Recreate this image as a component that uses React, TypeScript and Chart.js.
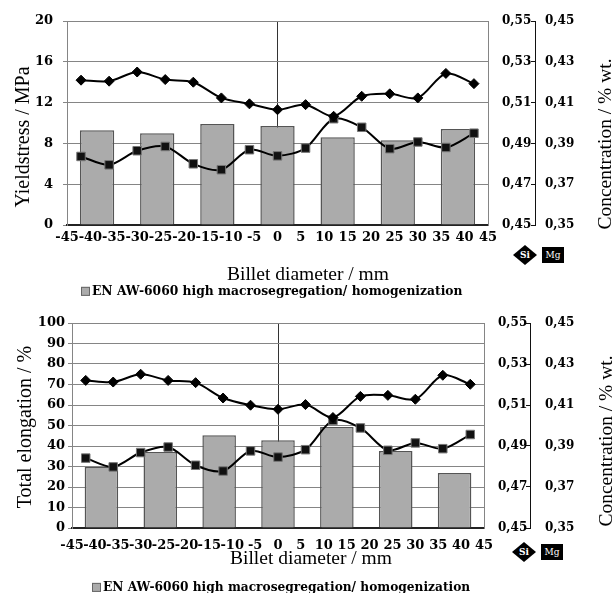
import React, { useEffect, useRef } from "react";
import { Chart, registerables } from "chart.js";

Chart.register(...registerables);

// ---- data ----
const barPositions = ["-38.6", "-25.7", "-12.9", "0", "12.9", "25.7", "38.6"];
const pointPositions = ["-42", "-36", "-30", "-24", "-18", "-12", "-6", "0", "6", "12", "18", "24", "30", "36", "42"];

const yieldBars = [9.3, 9.0, 9.9, 9.7, 8.6, 8.3, 9.4];
const yieldSi = [0.521, 0.5205, 0.525, 0.5213, 0.52, 0.5123, 0.5094, 0.5065, 0.509, 0.5033, 0.5131, 0.5143, 0.5123, 0.5243, 0.5193];
const yieldMg = [0.3836, 0.3795, 0.3864, 0.3885, 0.38, 0.3771, 0.3869, 0.3839, 0.3877, 0.4021, 0.3979, 0.3874, 0.3907, 0.388, 0.395];

const elongBars = [29.8, 37.1, 45.2, 42.8, 49.3, 37.6, 26.8];
const elongSi = [0.522, 0.5212, 0.525, 0.522, 0.5209, 0.5134, 0.5099, 0.5079, 0.5102, 0.5039, 0.5142, 0.5147, 0.5128, 0.5245, 0.5201];
const elongMg = [0.3841, 0.3798, 0.3868, 0.3895, 0.3806, 0.3778, 0.3876, 0.3846, 0.3882, 0.4025, 0.3988, 0.3879, 0.3915, 0.3887, 0.3956];

const siTicks = [0.45, 0.47, 0.49, 0.51, 0.53, 0.55];
const mgTicks = [0.35, 0.37, 0.39, 0.41, 0.43, 0.45];

const xTitle = "Billet diameter / mm";
const concTitle = "Concentration / % wt.";
const legendText = "EN AW-6060 high macrosegregation/ homogenization";

const TICK_FONT = { family: "'DejaVu Serif', serif", size: 13, weight: "bold" };
const RIGHT_TICK_FONT = { family: "'DejaVu Serif', serif", size: 12, weight: "bold" };
const TITLE_FAMILY = "'Liberation Serif', 'Times New Roman', serif";

type PanelCfg = {
  top: number;
  height: number;
  bars: number[];
  si: number[];
  mg: number[];
  yMax: number;
  yStep: number;
  padTop: number;
  padBottom: number;
  chartLeft: number;
  siW: number;
  mgW: number;
  xTickPad: number;
  yTickPad: number;
  siPad: number;
  mgPad: number;
};

const fmtConc = (v: number | string) => Number(v).toFixed(2).replace(".", ",");

const fixVertical = (w: number) => (s: any) => {
  s.width = w;
  s.paddingTop = 0;
  s.paddingBottom = 0;
};

function Panel({ cfg }: { cfg: PanelCfg }) {
  const ref = useRef<HTMLCanvasElement | null>(null);
  useEffect(() => {
    if (!ref.current) return;
    const chart = new Chart(ref.current, {
      type: "bar",
      data: {
        datasets: [
          {
            type: "line",
            label: "Si",
            data: cfg.si,
            xAxisID: "xLine",
            yAxisID: "ySi",
            borderColor: "#000",
            borderWidth: 2,
            pointStyle: "rectRot",
            pointRadius: 5,
            pointBackgroundColor: "#000",
            pointBorderColor: "#000",
            pointBorderWidth: 1,
            tension: 0.3,
            fill: false,
            order: 1,
          } as any,
          {
            type: "line",
            label: "Mg",
            data: cfg.mg,
            xAxisID: "xLine",
            yAxisID: "yMg",
            borderColor: "#000",
            borderWidth: 2,
            pointStyle: "rect",
            pointRadius: 6,
            pointBackgroundColor: "#111",
            pointBorderColor: "#777",
            pointBorderWidth: 1,
            tension: 0.3,
            fill: false,
            order: 2,
          } as any,
          {
            type: "bar",
            label: legendText,
            data: cfg.bars,
            xAxisID: "xBar",
            yAxisID: "y",
            backgroundColor: "#ababab",
            borderColor: "#555",
            borderWidth: 1.5,
            grouped: false,
            categoryPercentage: 1,
            barPercentage: 0.57,
            order: 3,
          } as any,
        ],
      },
      options: {
        responsive: false,
        maintainAspectRatio: false,
        devicePixelRatio: 1,
        animation: false,
        events: [],
        layout: { padding: { top: cfg.padTop, bottom: cfg.padBottom, left: 0, right: 0 } },
        plugins: { legend: { display: false }, tooltip: { enabled: false }, title: { display: false } },
        scales: {
          x: {
            type: "linear",
            position: "bottom",
            min: -45,
            max: 45,
            offset: false,
            z: 1,
            ticks: {
              stepSize: 5,
              autoSkip: false,
              maxRotation: 0,
              minRotation: 0,
              padding: cfg.xTickPad,
              color: "#000",
              font: TICK_FONT,
              callback: (v: any) => String(v),
            },
            grid: {
              offset: false,
              drawTicks: false,
              color: (ctx: any) => (ctx.tick && ctx.tick.value === 0 ? "#333" : "rgba(0,0,0,0)"),
              lineWidth: 1,
            },
            border: { display: true, color: "#222", width: 2 },
            afterFit: (s: any) => {
              s.height = 30;
              s.paddingLeft = 0;
              s.paddingRight = 0;
            },
          },
          xBar: { type: "category", labels: barPositions, display: false, offset: true },
          xLine: { type: "category", labels: pointPositions, display: false, offset: true },
          y: {
            type: "linear",
            position: "left",
            min: 0,
            max: cfg.yMax,
            ticks: { stepSize: cfg.yStep, padding: cfg.yTickPad, color: "#000", font: TICK_FONT },
            grid: { color: "#858585", lineWidth: 1, drawTicks: true, tickLength: 4 },
            border: { display: true, color: "#858585" },
            afterFit: fixVertical(cfg.chartLeft),
          },
          ySi: {
            type: "linear",
            position: "right",
            weight: 0,
            min: 0.45,
            max: 0.55,
            afterBuildTicks: (s: any) => {
              s.ticks = siTicks.map((v) => ({ value: v }));
            },
            ticks: { padding: cfg.siPad, color: "#000", font: RIGHT_TICK_FONT, callback: fmtConc },
            grid: { display: false, drawTicks: false, tickLength: 0 },
            border: { display: true, color: "#858585" },
            afterFit: fixVertical(cfg.siW),
          },
          yMg: {
            type: "linear",
            position: "right",
            weight: 1,
            min: 0.35,
            max: 0.45,
            afterBuildTicks: (s: any) => {
              s.ticks = mgTicks.map((v) => ({ value: v }));
            },
            ticks: { padding: cfg.mgPad, color: "#000", font: RIGHT_TICK_FONT, callback: fmtConc },
            grid: { display: true, drawOnChartArea: false, drawTicks: true, tickLength: -4, color: "#111" },
            border: { display: true, color: "#111", width: 1 },
            afterFit: fixVertical(cfg.mgW),
          },
        },
      } as any,
    });
    return () => chart.destroy();
  }, [cfg]);
  return (
    <canvas
      ref={ref}
      width={616}
      height={cfg.height}
      style={{ position: "absolute", left: 0, top: cfg.top, width: 616, height: cfg.height, display: "block" }}
    />
  );
}

function Txt(props: {
  x: number;
  y: number;
  size: number;
  rot?: number;
  family?: string;
  children: React.ReactNode;
}) {
  const { x, y, size, rot = 0, family = TITLE_FAMILY } = props;
  return (
    <div
      style={{
        position: "absolute",
        left: x,
        top: y,
        transform: `translate(-50%, -50%) rotate(${rot}deg)`,
        fontFamily: family,
        fontSize: size,
        lineHeight: 1,
        whiteSpace: "nowrap",
        color: "#000",
      }}
    >
      {props.children}
    </div>
  );
}

function Legend({ x, y, size }: { x: number; y: number; size: number }) {
  return (
    <div
      style={{
        position: "absolute",
        left: x,
        top: y,
        transform: "translateY(-50%)",
        display: "flex",
        alignItems: "center",
        whiteSpace: "nowrap",
        fontFamily: "'DejaVu Serif', serif",
        fontSize: size,
        fontWeight: "bold",
        lineHeight: 1,
        color: "#000",
      }}
    >
      <span
        style={{
          display: "inline-block",
          width: 7,
          height: 7,
          background: "#ababab",
          border: "1px solid #666",
          marginRight: 2,
        }}
      />
      <span>{legendText}</span>
    </div>
  );
}

function SeriesKey({ x, y }: { x: number; y: number }) {
  return (
    <>
      <div
        style={{
          position: "absolute",
          left: x - 12,
          top: y - 10,
          width: 24,
          height: 20,
          background: "#000",
          clipPath: "polygon(50% 0, 100% 50%, 50% 100%, 0 50%)",
          color: "#fff",
          fontFamily: "'DejaVu Serif', serif",
          fontWeight: "bold",
          fontSize: 9,
          lineHeight: "20px",
          textAlign: "center",
        }}
      >
        Si
      </div>
      <div
        style={{
          position: "absolute",
          left: x + 17,
          top: y - 8,
          width: 22,
          height: 16,
          background: "#000",
          color: "#fff",
          fontFamily: "'DejaVu Serif', serif",
          fontSize: 9,
          lineHeight: "16px",
          textAlign: "center",
        }}
      >
        Mg
      </div>
    </>
  );
}

const topCfg: PanelCfg = {
  top: 0,
  height: 300,
  bars: yieldBars,
  si: yieldSi,
  mg: yieldMg,
  yMax: 20,
  yStep: 4,
  padTop: 21,
  padBottom: 45,
  chartLeft: 67,
  siW: 47,
  mgW: 81,
  xTickPad: 5,
  yTickPad: 10,
  siPad: 14,
  mgPad: 14,
};

const bottomCfg: PanelCfg = {
  top: 300,
  height: 293,
  bars: elongBars,
  si: elongSi,
  mg: elongMg,
  yMax: 100,
  yStep: 10,
  padTop: 23,
  padBottom: 35,
  chartLeft: 72,
  siW: 46,
  mgW: 86,
  xTickPad: 10,
  yTickPad: 3,
  siPad: 14,
  mgPad: 19,
};

export default function App() {
  return (
    <div style={{ position: "absolute", left: 0, top: 0, width: 616, height: 593, background: "#fff", overflow: "hidden" }}>
      <Panel cfg={topCfg} />
      <Panel cfg={bottomCfg} />

      <Txt x={22} y={137} size={20} rot={-90}>Yieldstress / MPa</Txt>
      <Txt x={605} y={144} size={19.5} rot={-90}>{concTitle}</Txt>
      <Txt x={308} y={274} size={19.5}>{xTitle}</Txt>
      <Legend x={81} y={291} size={12.3} />
      <SeriesKey x={525} y={255} />

      <Txt x={24} y={427} size={20} rot={-90}>Total elongation / %</Txt>
      <Txt x={606} y={441} size={19.5} rot={-90}>{concTitle}</Txt>
      <Txt x={311} y={558} size={19.5}>{xTitle}</Txt>
      <Legend x={92} y={587} size={12.2} />
      <SeriesKey x={524} y={552} />
    </div>
  );
}
